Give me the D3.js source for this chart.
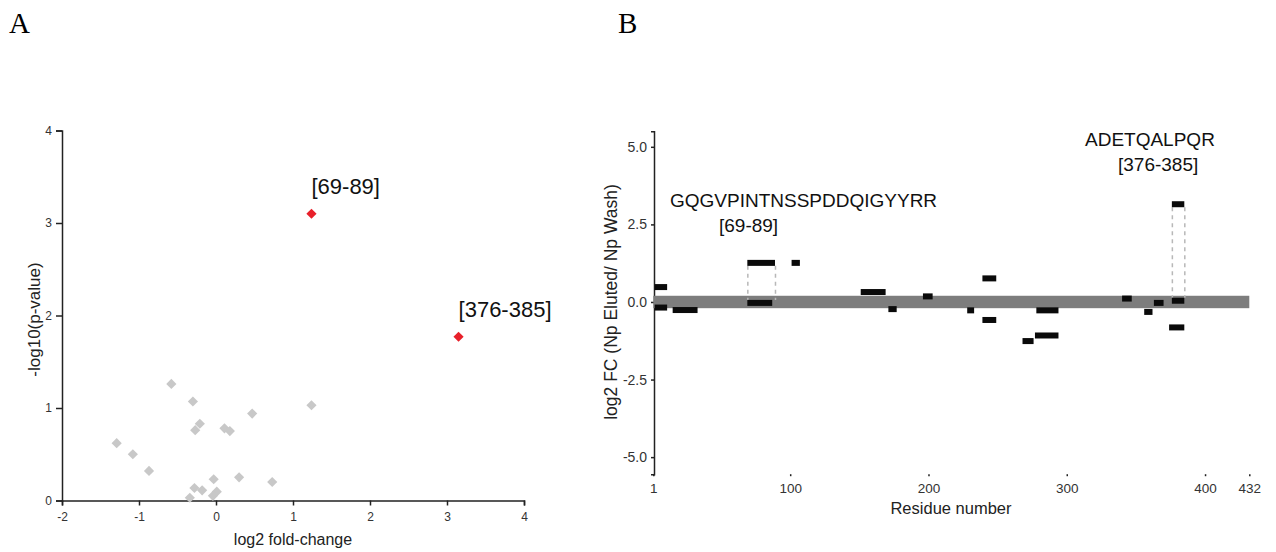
<!DOCTYPE html>
<html>
<head>
<meta charset="utf-8">
<script src="https://cdn.jsdelivr.net/npm/d3@7"></script>
<style>
  html, body { margin: 0; padding: 0; background: #fff; }
  svg { display: block; font-family: "Liberation Sans", Arial, sans-serif; }
  .axis path, .axis line { stroke: #222; stroke-width: 1.5; }
  .axis text { fill: #333; }
</style>
</head>
<body>
<svg id="fig" width="1276" height="552"></svg>
<script>
// ---- Panel A: volcano plot (log2 fold-change vs -log10 p) ----
const volcanoLog2FC = [-0.58, -0.30, -0.21, -0.27, 0.11, 0.18, 0.47, -1.29, -1.08, -0.87,
                       -0.03, 0.30, 0.73, -0.28, -0.18, 0.01, -0.04, -0.34, 1.24];
const volcanoNegLogP = [1.26, 1.07, 0.83, 0.76, 0.78, 0.75, 0.94, 0.62, 0.50, 0.32,
                        0.23, 0.25, 0.20, 0.135, 0.11, 0.095, 0.05, 0.03, 1.03];
const hitLabels = ["[69-89]", "[376-385]"];
const hitLog2FC = [1.24, 3.15];
const hitNegLogP = [3.10, 1.77];
const volcanoXTicks = [-2, -1, 0, 1, 2, 3, 4];
const volcanoYTicks = [0, 1, 2, 3, 4];

// ---- Panel B: peptide map along the protein sequence ----
const peptideStart = [2, 2, 15, 69, 69, 101, 151, 171, 196, 228, 239, 239, 268, 277, 278, 340, 356, 363, 376, 376, 374];
const peptideEnd   = [11, 11, 33, 89, 87, 107, 169, 177, 203, 233, 249, 249, 276, 294, 294, 347, 362, 370, 385, 385, 385];
const peptideLog2FC = [0.48, -0.18, -0.26, 1.26, -0.03, 1.26, 0.32, -0.23, 0.18, -0.27, 0.76, -0.58,
                       -1.26, -1.08, -0.27, 0.11, -0.32, -0.03, 3.15, 0.04, -0.82];
const residueTicks = [1, 100, 200, 300, 400, 432];
const fcTicks = [5.0, 2.5, 0.0, -2.5, -5.0];
const proteinLength = 432;
const noiseBand = 0.2;
// highlighted peptides: connector between the enriched bar and its near-zero partner
const linkStart = [69, 376];
const linkEnd = [89, 385];
const linkHigh = [1.26, 3.15];
const linkLow = [-0.03, 0.04];
const linkSequence = ["GQGVPINTNSSPDDQIGYYRR", "ADETQALPQR"];
const linkRange = ["[69-89]", "[376-385]"];

const svg = d3.select("#fig");

// panel letters
svg.append("text").attr("x", 9).attr("y", 32.5)
  .style("font-family", "'Liberation Serif', 'Times New Roman', serif")
  .style("font-size", "29px").attr("fill", "#000").text("A");
svg.append("text").attr("x", 618).attr("y", 32.5)
  .style("font-family", "'Liberation Serif', 'Times New Roman', serif")
  .style("font-size", "29px").attr("fill", "#000").text("B");

// ================= Panel A =================
const xA = d3.scaleLinear().domain([-2, 4]).range([62, 524]);
const yA = d3.scaleLinear().domain([0, 4]).range([500.5, 130.5]);

const gxA = svg.append("g").attr("class", "axis")
  .attr("transform", `translate(0,${yA(0)})`)
  .call(d3.axisBottom(xA).tickValues(volcanoXTicks).tickSizeOuter(0).tickSize(5).tickFormat(d => String(d)));
gxA.selectAll("text").style("font-size", "12px").attr("dy", "1.05em");
const gyA = svg.append("g").attr("class", "axis")
  .attr("transform", `translate(${xA(-2)},0)`)
  .call(d3.axisLeft(yA).tickValues(volcanoYTicks).tickSizeOuter(0).tickSize(6).tickFormat(d => String(d)));
gyA.selectAll("text").style("font-size", "12px").attr("x", -10);

svg.append("text").attr("x", xA(1)).attr("y", 545)
  .attr("text-anchor", "middle").style("font-size", "16px").attr("fill", "#222")
  .text("log2 fold-change");
svg.append("text")
  .attr("transform", `translate(40,${yA(2) + 4}) rotate(-90)`)
  .attr("text-anchor", "middle").style("font-size", "17px").attr("fill", "#222")
  .text("-log10(p-value)");

const diamond = d3.symbol(d3.symbolSquare, 52);
svg.append("g").selectAll("path")
  .data(d3.range(volcanoLog2FC.length))
  .join("path")
  .attr("d", diamond)
  .attr("transform", i => `translate(${xA(volcanoLog2FC[i])},${yA(volcanoNegLogP[i])}) rotate(45)`)
  .attr("fill", "#c8c8c8");

svg.append("g").selectAll("path")
  .data(d3.range(hitLog2FC.length))
  .join("path")
  .attr("d", diamond)
  .attr("transform", i => `translate(${xA(hitLog2FC[i])},${yA(hitNegLogP[i])}) rotate(45)`)
  .attr("fill", "#e8202a");

svg.append("g").selectAll("text")
  .data(d3.range(hitLabels.length))
  .join("text")
  .attr("x", i => xA(hitLog2FC[i]))
  .attr("y", i => yA(hitNegLogP[i]) - 20)
  .style("font-size", "22px").attr("fill", "#111")
  .text(i => hitLabels[i]);

// ================= Panel B =================
const xB = d3.scaleLinear().domain([1, proteinLength]).range([653.3, 1249.3]);
const yB = d3.scaleLinear().domain([-5.55, 5.5]).range([474.2, 131.3]);

const gyB = svg.append("g").attr("class", "axis")
  .attr("transform", `translate(654,0)`)
  .call(d3.axisLeft(yB).tickValues(fcTicks).tickSizeOuter(0).tickSize(3).tickFormat(d => d.toFixed(1)));
gyB.selectAll("text").style("font-size", "14px").attr("x", -7);

const gxB = svg.append("g").attr("class", "axis")
  .attr("transform", `translate(0,${yB(-5.55)})`)
  .call(d3.axisBottom(xB).tickValues(residueTicks).tickSizeOuter(0).tickSize(2).tickFormat(d => String(d)));
gxB.select(".domain").remove();
gxB.selectAll("line").attr("stroke-width", 2);
gxB.selectAll("text").style("font-size", "13.5px").attr("dy", "1.05em");

svg.append("text").attr("x", 951).attr("y", 514)
  .attr("text-anchor", "middle").style("font-size", "16.5px").attr("fill", "#222")
  .text("Residue number");
svg.append("text")
  .attr("transform", `translate(617,${yB(0)}) rotate(-90)`)
  .attr("text-anchor", "middle").style("font-size", "17.5px").attr("fill", "#222")
  .text("log2 FC (Np Eluted/ Np Wash)");

// no-change band around zero
svg.append("rect")
  .attr("x", xB(1)).attr("width", xB(proteinLength) - xB(1))
  .attr("y", yB(noiseBand)).attr("height", yB(-noiseBand) - yB(noiseBand))
  .attr("fill", "#7d7d7d");

// dashed connectors for the highlighted peptides
const links = svg.append("g").attr("stroke", "#b8b8b8").attr("stroke-width", 1.5).attr("stroke-dasharray", "4,4");
d3.range(linkStart.length).forEach(i => {
  [linkStart[i], linkEnd[i]].forEach(r => {
    links.append("line")
      .attr("x1", xB(r) + 0.5).attr("x2", xB(r) + 0.5)
      .attr("y1", yB(linkHigh[i]) + 3).attr("y2", yB(linkLow[i]) - 3);
  });
});

// peptide bars
svg.append("g").selectAll("rect")
  .data(d3.range(peptideStart.length))
  .join("rect")
  .attr("x", i => xB(peptideStart[i]))
  .attr("width", i => xB(peptideEnd[i]) - xB(peptideStart[i]))
  .attr("y", i => yB(peptideLog2FC[i]) - 3)
  .attr("height", 6)
  .attr("fill", "#0a0a0a");

// peptide annotations
const seqX = [670, 1085];
const seqY = [207, 146];
const rangeX = [719, 1118];
const rangeY = [232, 171];
d3.range(linkSequence.length).forEach(i => {
  svg.append("text").attr("x", seqX[i]).attr("y", seqY[i])
    .style("font-size", "19px").attr("fill", "#111").text(linkSequence[i]);
  svg.append("text").attr("x", rangeX[i]).attr("y", rangeY[i])
    .style("font-size", "19px").attr("fill", "#111").text(linkRange[i]);
});
</script>
</body>
</html>
